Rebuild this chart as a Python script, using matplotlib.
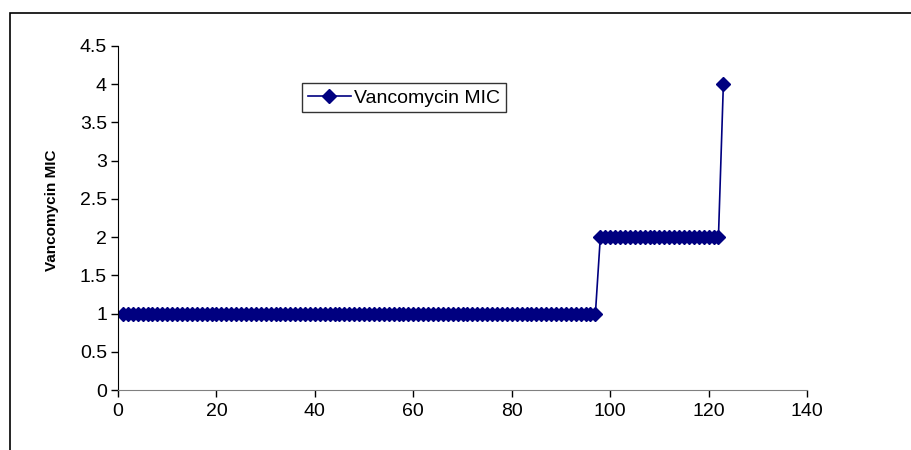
import matplotlib.pyplot as plt
from matplotlib.patches import Rectangle

plt.rcParams['font.family'] = ['Liberation Sans', 'DejaVu Sans']

# isolate index and vancomycin MIC readings
isolates = list(range(1, 124))
mic_values = [1] * 97 + [2] * 25 + [4]

x_ticks = [0, 20, 40, 60, 80, 100, 120, 140]
y_ticks = [0, 0.5, 1, 1.5, 2, 2.5, 3, 3.5, 4, 4.5]
y_tick_labels = ['0', '0.5', '1', '1.5', '2', '2.5', '3', '3.5', '4', '4.5']


def main() -> None:
    fig = plt.figure(figsize=(9.12, 4.5), dpi=100)
    ax = fig.add_axes([0.1294, 0.1333, 0.7555, 0.7645])

    ax.plot(isolates, mic_values, color='#000080', linewidth=1.2,
            marker='D', markersize=7, label='Vancomycin MIC')

    ax.set_xlim(0, 140)
    ax.set_ylim(0, 4.5)
    ax.set_xticks(x_ticks)
    ax.set_yticks(y_ticks)
    ax.set_yticklabels(y_tick_labels)
    ax.tick_params(axis='both', labelsize=14, length=5, width=1, direction='out', color='#000000')
    ax.tick_params(axis='x', pad=4)
    ax.tick_params(axis='y', pad=3)
    for side in ['top', 'right']:
        ax.spines[side].set_visible(False)
    ax.spines['left'].set_color('#000000')
    ax.spines['bottom'].set_color('#808080')

    ax.set_ylabel('Vancomycin MIC', fontsize=11, fontweight='bold', va='center')
    ax.yaxis.set_label_coords(-0.0965, 0.523)

    leg = ax.legend(loc='upper left', bbox_to_anchor=(0.267, 0.892), fontsize=14,
                    frameon=True, fancybox=False, handlelength=2.2, handletextpad=0.2,
                    borderpad=0.3, borderaxespad=0)
    leg.get_frame().set_edgecolor('#000000')
    leg.get_frame().set_linewidth(1.0)

    # outer chart border
    fig.patches.append(Rectangle((10 / 912, -0.1), 1.2, 1.1 - 13 / 450,
                                 transform=fig.transFigure, fill=False,
                                 edgecolor='#000000', linewidth=1.2))

    fig.savefig('out.png', dpi=100)


if __name__ == "__main__":
    main()
